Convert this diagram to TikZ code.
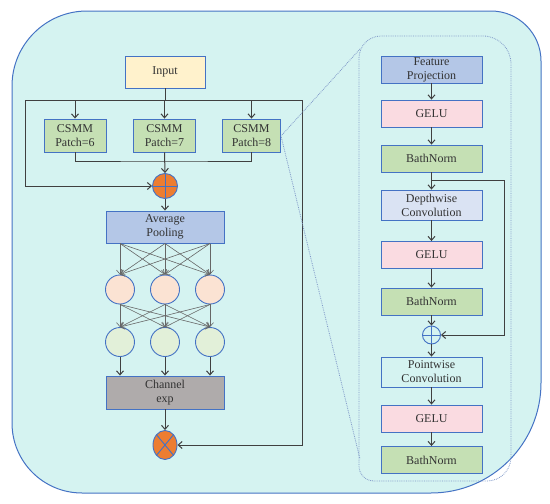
\documentclass[tikz,border=0pt]{standalone}
\usepackage{fontspec}
\setmainfont{Liberation Serif}
\usetikzlibrary{arrows.meta,shapes.geometric}
\definecolor{bgc}{HTML}{D5F3F1}
\definecolor{bord}{HTML}{4472C4}
\definecolor{inpc}{HTML}{FFF2CC}
\definecolor{grn}{HTML}{C5E0B4}
\definecolor{blu}{HTML}{B4C7E7}
\definecolor{peach}{HTML}{FBE3D3}
\definecolor{lgrn}{HTML}{E2F0D9}
\definecolor{gry}{HTML}{AFABAB}
\definecolor{org}{HTML}{ED7D31}
\definecolor{pnk}{HTML}{FADBE1}
\definecolor{lblu}{HTML}{DAE3F3}
\definecolor{dotc}{HTML}{7F98C8}
\begin{document}
\begin{tikzpicture}[x=1pt,y=-1pt,
  font=\fontsize{12}{14}\selectfont,
  box/.style={draw=bord, line width=0.9pt, inner sep=0pt, align=center, text=black!80},
  lbox/.style={box, minimum width=118, minimum height=32},
  cbox/.style={box, minimum width=62, minimum height=33},
  rbox/.style={box, minimum width=101, minimum height=27},
  rbox2/.style={box, minimum width=101, minimum height=30},
  neuron/.style={circle, draw=bord, line width=0.9pt, minimum size=29, inner sep=0pt},
  arr/.style={-{Straight Barb[length=4pt,width=7pt]}, line width=1pt, draw=black!75},
  ln/.style={line width=1pt, draw=black!75},
  arrg/.style={-{Straight Barb[length=4pt,width=7pt]}, line width=0.6pt, draw=black!60},
]
\useasboundingbox (0,0) rectangle (550,504);
% outer shape
\draw[bord, fill=bgc, line width=1pt]
  (12,86) .. controls (12,44.6) and (45.6,11) .. (87,11)
  -- (491,11) .. controls (518.6,11) and (541,33.4) .. (541,61)
  -- (541,383) .. controls (541,443.7) and (491.7,493) .. (431,493)
  -- (82,493) .. controls (43.3,493) and (12,461.7) .. (12,423) -- cycle;
% inner dotted shape
\draw[dotc, densely dotted, line width=0.8pt]
  (359,58) .. controls (359,45.8) and (368.8,36) .. (381,36)
  -- (483,36) .. controls (498.5,36) and (511,48.5) .. (511,64)
  -- (511,457) .. controls (511,470.3) and (500.3,481) .. (487,481)
  -- (374,481) .. controls (365.7,481) and (359,474.3) .. (359,466) -- cycle;

% left column
\node[box, fill=inpc, minimum width=80, minimum height=32] (inp) at (165,72) {Input};
\node[cbox, fill=grn] (c6) at (75,135.5) {CSMM\\Patch=6};
\node[cbox, fill=grn] (c7) at (164.5,135.5) {CSMM\\Patch=7};
\node[cbox, fill=grn, minimum width=58] (c8) at (251.5,135.5) {CSMM\\Patch=8};
\node[circle, draw=bord, fill=org, line width=0.9pt, minimum size=25, inner sep=0pt,
  path picture={\draw[bord, line width=0.9pt] (path picture bounding box.north) -- (path picture bounding box.south) (path picture bounding box.west) -- (path picture bounding box.east);}] (plus) at (165,186) {};
\node[lbox, fill=blu] (pool) at (165,227) {Average\\Pooling};
\node[neuron, fill=peach] (a1) at (120,289.5) {};
\node[neuron, fill=peach] (a2) at (165,289.5) {};
\node[neuron, fill=peach] (a3) at (210,289.5) {};
\node[neuron, fill=lgrn] (b1) at (120,342) {};
\node[neuron, fill=lgrn] (b2) at (165,342) {};
\node[neuron, fill=lgrn] (b3) at (210,342) {};
\node[lbox, fill=gry, minimum height=33] (chn) at (165,392.5) {Channel\\exp};
\node[ellipse, draw=bord, fill=org, line width=0.9pt, minimum width=24, minimum height=29, inner sep=0pt,
  path picture={\draw[bord, line width=0.9pt] (path picture bounding box.north west) -- (path picture bounding box.south east) (path picture bounding box.south west) -- (path picture bounding box.north east);}] (mul) at (165,445) {};

\coordinate (tl) at (25,100);
\coordinate (tr) at (302,100);
\coordinate (mm) at (165,161);
\draw[ln] (inp.south) -- (inp.south |- tl);
\draw[ln] (tl) -- (tr);
\draw[arr] (c6.north |- tl) -- (c6.north);
\draw[arr] (c7.north |- tl) -- (c7.north);
\draw[arr] (c8.north |- tl) -- (c8.north);
\draw[arr] (tl) |- (plus.west);
\draw[arr] (tr) |- (mul.east);
\draw[ln] (c6.south) |- (mm) -| (c8.south);
\draw[arr] (c7.south) -- (plus.north);
\draw[arr] (plus.south) -- (pool.north);
\coordinate (p1) at (120,243.5);
\coordinate (p2) at (165,243.5);
\coordinate (p3) at (210,243.5);
\foreach \s in {p1,p2,p3}{\foreach \t in {a1,a2,a3}{\draw[arrg] (\s) -- (\t.north);}}
\foreach \s in {a1,a2,a3}{\foreach \t in {b1,b2,b3}{\draw[arrg] (\s.south) -- (\t.north);}}
\draw[arr] (b1.south) -- (b1.south |- chn.north);
\draw[arr] (b2.south) -- (chn.north);
\draw[arr] (b3.south) -- (b3.south |- chn.north);
\draw[arr] (chn.south) -- (mul.north);

% projection lines
\coordinate (pj) at (281,136);
\coordinate (q1) at (360,49);
\coordinate (q2) at (360,459);
\draw[dotc, densely dotted, line width=0.8pt] (q1) -- (pj) -- (q2);

% right column
\node[rbox, fill=blu] (fp) at (431.5,69.5) {Feature\\Projection};
\node[rbox, fill=pnk] (g1) at (431.5,113.5) {GELU};
\node[rbox, fill=grn] (n1) at (431.5,158.5) {BathNorm};
\node[rbox2, fill=lblu] (dw) at (431.5,205) {Depthwise\\Convolution};
\node[rbox, fill=pnk] (g2) at (431.5,255) {GELU};
\node[rbox, fill=grn] (n2) at (431.5,301.5) {BathNorm};
\node[circle, draw=bord, line width=0.9pt, minimum size=18, inner sep=0pt,
  path picture={\draw[bord, line width=0.9pt] (path picture bounding box.north) -- (path picture bounding box.south) (path picture bounding box.west) -- (path picture bounding box.east);}] (p2c) at (431.5,335) {};
\node[rbox2] (pw) at (431.5,372) {Pointwise\\Convolution};
\node[rbox, fill=pnk] (g3) at (431.5,418.5) {GELU};
\node[rbox, fill=grn] (n3) at (431.5,460) {BathNorm};
\draw[arr] (fp) -- (g1);
\draw[arr] (g1) -- (n1);
\draw[arr] (n1) -- (dw);
\draw[arr] (dw) -- (g2);
\draw[arr] (g2) -- (n2);
\draw[arr] (n2) -- (p2c);
\draw[arr] (p2c) -- (pw);
\draw[arr] (pw) -- (g3);
\draw[arr] (g3) -- (n3);
\coordinate (sk) at (504,180);
\draw[arr] (sk -| n1.south) -- (sk) |- (p2c.east);
\end{tikzpicture}
\end{document}
